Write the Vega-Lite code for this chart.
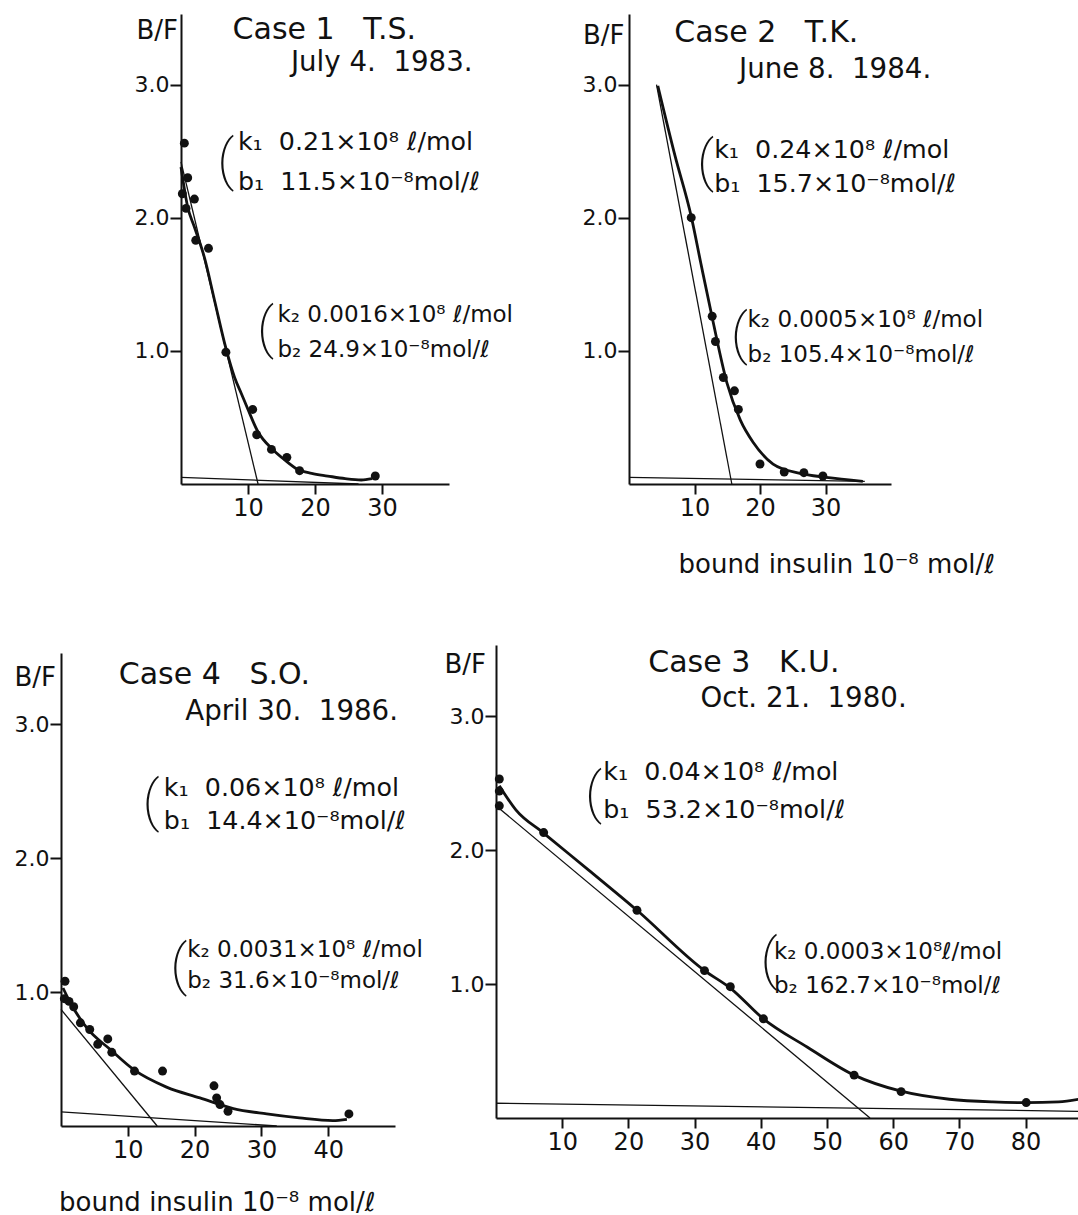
{
  "$schema": "https://vega.github.io/schema/vega-lite/v6.json",
  "background": "white",
  "padding": {"left": 13, "top": 14, "right": 0, "bottom": 0},
  "config": {
    "view": {"stroke": null},
    "font": "DejaVu Sans",
    "axis": {"grid": false, "domainColor": "#111", "domainWidth": 2, "tickColor": "#111", "tickWidth": 2, "labelColor": "#111", "labelFont": "DejaVu Sans", "titleFont": "DejaVu Sans", "titleFontWeight": "normal", "titleColor": "#111", "titleFontSize": 26, "labelOverlap": false, "labelFlush": false},
    "axisX": {"tickSize": 10, "labelFontSize": 24, "labelPadding": 2},
    "axisY": {"tickSize": 11, "labelFontSize": 22, "labelPadding": 1}
  },
  "datasets": {
    "pts": [
      {"case":1,"x":0.5,"y":2.56},{"case":1,"x":1.0,"y":2.30},{"case":1,"x":0.2,"y":2.18},{"case":1,"x":2.0,"y":2.14},{"case":1,"x":0.75,"y":2.07},{"case":1,"x":2.2,"y":1.83},{"case":1,"x":4.1,"y":1.77},{"case":1,"x":6.7,"y":0.99},{"case":1,"x":10.7,"y":0.56},{"case":1,"x":11.3,"y":0.37},{"case":1,"x":13.5,"y":0.26},{"case":1,"x":15.8,"y":0.2},{"case":1,"x":17.7,"y":0.1},{"case":1,"x":29.0,"y":0.06},
      {"case":2,"x":9.5,"y":2.0},{"case":2,"x":12.7,"y":1.26},{"case":2,"x":13.2,"y":1.07},{"case":2,"x":14.4,"y":0.8},{"case":2,"x":16.1,"y":0.7},{"case":2,"x":16.7,"y":0.56},{"case":2,"x":20.0,"y":0.15},{"case":2,"x":23.7,"y":0.09},{"case":2,"x":26.7,"y":0.085},{"case":2,"x":29.6,"y":0.06},
      {"case":4,"x":0.6,"y":1.08},{"case":4,"x":0.5,"y":0.95},{"case":4,"x":1.2,"y":0.93},{"case":4,"x":1.9,"y":0.89},{"case":4,"x":2.9,"y":0.77},{"case":4,"x":4.3,"y":0.72},{"case":4,"x":5.5,"y":0.61},{"case":4,"x":7.0,"y":0.65},{"case":4,"x":7.6,"y":0.55},{"case":4,"x":11.0,"y":0.41},{"case":4,"x":15.2,"y":0.41},{"case":4,"x":22.9,"y":0.3},{"case":4,"x":23.3,"y":0.21},{"case":4,"x":23.8,"y":0.16},{"case":4,"x":25.0,"y":0.11},{"case":4,"x":43.1,"y":0.09},
      {"case":3,"x":0.5,"y":2.53},{"case":3,"x":0.5,"y":2.44},{"case":3,"x":0.5,"y":2.33},{"case":3,"x":7.2,"y":2.13},{"case":3,"x":21.3,"y":1.55},{"case":3,"x":31.5,"y":1.1},{"case":3,"x":35.4,"y":0.98},{"case":3,"x":40.4,"y":0.74},{"case":3,"x":54.1,"y":0.32},{"case":3,"x":61.2,"y":0.197},{"case":3,"x":80.1,"y":0.115}
    ],
    "curve": [
      {"case":1,"x":0,"y":2.38},{"case":1,"x":1.0,"y":2.08},{"case":1,"x":2,"y":1.93},{"case":1,"x":3.5,"y":1.7},{"case":1,"x":5,"y":1.38},{"case":1,"x":6.7,"y":1.02},{"case":1,"x":8,"y":0.8},{"case":1,"x":9,"y":0.68},{"case":1,"x":10,"y":0.56},{"case":1,"x":11.4,"y":0.4},{"case":1,"x":13.9,"y":0.25},{"case":1,"x":15.5,"y":0.18},{"case":1,"x":17.4,"y":0.11},{"case":1,"x":19.5,"y":0.08},{"case":1,"x":21.9,"y":0.06},{"case":1,"x":24.5,"y":0.04},{"case":1,"x":26.9,"y":0.03},{"case":1,"x":28.5,"y":0.04},
      {"case":2,"x":4.4,"y":2.99},{"case":2,"x":7,"y":2.47},{"case":2,"x":9.5,"y":2.01},{"case":2,"x":11,"y":1.65},{"case":2,"x":12.7,"y":1.25},{"case":2,"x":14.95,"y":0.76},{"case":2,"x":17.0,"y":0.48},{"case":2,"x":19.0,"y":0.31},{"case":2,"x":22.0,"y":0.15},{"case":2,"x":26.1,"y":0.08},{"case":2,"x":30.1,"y":0.05},{"case":2,"x":35.7,"y":0.02},
      {"case":4,"x":0.3,"y":1.03},{"case":4,"x":1.4,"y":0.92},{"case":4,"x":3.9,"y":0.73},{"case":4,"x":7.4,"y":0.57},{"case":4,"x":10.9,"y":0.42},{"case":4,"x":15.8,"y":0.29},{"case":4,"x":20.8,"y":0.21},{"case":4,"x":25.8,"y":0.13},{"case":4,"x":30.8,"y":0.09},{"case":4,"x":35.7,"y":0.06},{"case":4,"x":40.7,"y":0.04},{"case":4,"x":42.8,"y":0.05},
      {"case":3,"x":0.5,"y":2.48},{"case":3,"x":3,"y":2.3},{"case":3,"x":7.1,"y":2.13},{"case":3,"x":14,"y":1.85},{"case":3,"x":21.3,"y":1.55},{"case":3,"x":31.5,"y":1.1},{"case":3,"x":35.4,"y":0.97},{"case":3,"x":40.4,"y":0.74},{"case":3,"x":47,"y":0.53},{"case":3,"x":54.1,"y":0.32},{"case":3,"x":61.2,"y":0.2},{"case":3,"x":68.5,"y":0.14},{"case":3,"x":75,"y":0.12},{"case":3,"x":80.1,"y":0.115},{"case":3,"x":85,"y":0.12},{"case":3,"x":88,"y":0.14}
    ],
    "lines": [
      {"case":1,"line":"high","x":0,"y":2.42},{"case":1,"line":"high","x":11.5,"y":0},{"case":1,"line":"low","x":0,"y":0.05},{"case":1,"line":"low","x":26.5,"y":0},
      {"case":2,"line":"high","x":4.2,"y":3.0},{"case":2,"line":"high","x":15.7,"y":0},{"case":2,"line":"low","x":0,"y":0.05},{"case":2,"line":"low","x":36,"y":0.02},
      {"case":4,"line":"high","x":0,"y":0.87},{"case":4,"line":"high","x":14.4,"y":0},{"case":4,"line":"low","x":0,"y":0.105},{"case":4,"line":"low","x":32.3,"y":0},
      {"case":3,"line":"high","x":0.5,"y":2.31},{"case":3,"line":"high","x":56.5,"y":0},{"case":3,"line":"low","x":0,"y":0.11},{"case":3,"line":"low","x":88,"y":0.05}
    ],
    "notes": [
      {"case":1,"kind":"title","x":7.7,"y":3.34,"t":"Case 1\u00a0\u00a0\u00a0T.S."},
      {"case":1,"kind":"date","x":16.4,"y":3.1,"t":"July 4.\u00a0 1983."},
      {"case":1,"kind":"k1","x":8.5,"y":2.51,"t":"k₁\u00a0 0.21×10⁸ ℓ/mol"},
      {"case":1,"kind":"k1","x":8.5,"y":2.21,"t":"b₁\u00a0 11.5×10⁻⁸mol/ℓ"},
      {"case":1,"kind":"k2","x":14.4,"y":1.22,"t":"k₂ 0.0016×10⁸ ℓ/mol"},
      {"case":1,"kind":"k2","x":14.4,"y":0.956,"t":"b₂ 24.9×10⁻⁸mol/ℓ"},
      {"case":1,"kind":"br","x":5.4,"y":2.42,"t":"("},
      {"case":1,"kind":"br","x":11.35,"y":1.157,"t":"("},
      {"case":2,"kind":"title","x":6.9,"y":3.32,"t":"Case 2\u00a0\u00a0\u00a0T.K."},
      {"case":2,"kind":"date","x":16.8,"y":3.05,"t":"June 8.\u00a0 1984."},
      {"case":2,"kind":"k1","x":13.0,"y":2.45,"t":"k₁\u00a0 0.24×10⁸ ℓ/mol"},
      {"case":2,"kind":"k1","x":13.0,"y":2.19,"t":"b₁\u00a0 15.7×10⁻⁸mol/ℓ"},
      {"case":2,"kind":"k2","x":18.1,"y":1.18,"t":"k₂ 0.0005×10⁸ ℓ/mol"},
      {"case":2,"kind":"k2","x":18.1,"y":0.92,"t":"b₂ 105.4×10⁻⁸mol/ℓ"},
      {"case":2,"kind":"br","x":10.4,"y":2.41,"t":"("},
      {"case":2,"kind":"br","x":15.55,"y":1.108,"t":"("},
      {"case":4,"kind":"title","x":8.65,"y":3.3,"t":"Case 4\u00a0\u00a0\u00a0S.O."},
      {"case":4,"kind":"date","x":18.6,"y":3.03,"t":"April 30.\u00a0 1986."},
      {"case":4,"kind":"k1","x":15.4,"y":2.46,"t":"k₁\u00a0 0.06×10⁸ ℓ/mol"},
      {"case":4,"kind":"k1","x":15.4,"y":2.22,"t":"b₁\u00a0 14.4×10⁻⁸mol/ℓ"},
      {"case":4,"kind":"k2","x":18.9,"y":1.26,"t":"k₂ 0.0031×10⁸ ℓ/mol"},
      {"case":4,"kind":"k2","x":18.9,"y":1.03,"t":"b₂ 31.6×10⁻⁸mol/ℓ"},
      {"case":4,"kind":"br","x":12.2,"y":2.41,"t":"("},
      {"case":4,"kind":"br","x":16.35,"y":1.19,"t":"("},
      {"case":3,"kind":"title","x":23.0,"y":3.33,"t":"Case 3\u00a0\u00a0\u00a0K.U."},
      {"case":3,"kind":"date","x":30.9,"y":3.07,"t":"Oct. 21.\u00a0 1980."},
      {"case":3,"kind":"k1","x":16.2,"y":2.52,"t":"k₁\u00a0 0.04×10⁸ ℓ/mol"},
      {"case":3,"kind":"k1","x":16.2,"y":2.24,"t":"b₁\u00a0 53.2×10⁻⁸mol/ℓ"},
      {"case":3,"kind":"k2","x":42.0,"y":1.19,"t":"k₂ 0.0003×10⁸ℓ/mol"},
      {"case":3,"kind":"k2","x":42.0,"y":0.93,"t":"b₂ 162.7×10⁻⁸mol/ℓ"},
      {"case":3,"kind":"br","x":13.45,"y":2.41,"t":"("},
      {"case":3,"kind":"br","x":39.95,"y":1.17,"t":"("}
    ]
  },
  "spacing": 631,
  "bounds": "flush",
  "vconcat": [
    {
      "spacing": 0,
      "bounds": "flush",
      "hconcat": [
        {"width": 119.5, "height": 10, "data": {"values": [{"a": 1}]}, "mark": {"type": "point", "opacity": 0}, "encoding": {}},
        {
          "spacing": 180,
          "bounds": "flush",
          "hconcat": [
            {
              "width": 268, "height": 470,
              "encoding": {
                "x": {"field": "x", "type": "quantitative", "scale": {"domain": [0, 40], "nice": false, "zero": false}, "axis": {"values": [10, 20, 30], "title": null}},
                "y": {"field": "y", "type": "quantitative", "scale": {"domain": [0, 3.53], "nice": false}, "axis": {"values": [1, 2, 3], "format": ".1f", "title": "B/F", "titleAngle": 0, "titleAlign": "right", "titleBaseline": "alphabetic", "titleX": -3.5, "titleY": 24}}
              },
              "layer": [
                {"data": {"name": "lines"}, "transform": [{"filter": "datum.case == 1"}], "mark": {"type": "line", "color": "#111", "strokeWidth": 1.3}, "encoding": {"detail": {"field": "line"}}},
                {"data": {"name": "curve"}, "transform": [{"filter": "datum.case == 1"}], "mark": {"type": "line", "color": "#111", "strokeWidth": 2.8, "interpolate": "monotone"}, "encoding": {}},
                {"data": {"name": "pts"}, "transform": [{"filter": "datum.case == 1"}], "mark": {"type": "point", "filled": true, "color": "#111", "opacity": 1, "size": 80}, "encoding": {}},
                {"data": {"name": "notes"}, "transform": [{"filter": "datum.case == 1 && datum.kind != 'br'"}], "mark": {"type": "text", "align": "left", "baseline": "alphabetic", "color": "#111", "font": "DejaVu Sans"}, "encoding": {"text": {"field": "t"}, "size": {"field": "kind", "type": "nominal", "scale": {"domain": ["title", "date", "k1", "k2"], "range": [30, 23, 24, 19]}, "legend": null}}},
                {"data": {"name": "notes"}, "transform": [{"filter": "datum.case == 1 && datum.kind == 'br'"}], "mark": {"type": "text", "align": "left", "baseline": "middle", "color": "#111", "font": "Roboto", "fontWeight": 200, "fontSize": 56}, "encoding": {"text": {"field": "t"}}}
              ]
            },
            {
              "width": 262, "height": 470,
              "encoding": {
                "x": {"field": "x", "type": "quantitative", "scale": {"domain": [0, 40], "nice": false, "zero": false}, "axis": {"values": [10, 20, 30], "title": "bound insulin 10⁻⁸ mol/ℓ", "titleAlign": "left", "titleBaseline": "alphabetic", "titleX": 49, "titleY": 88}},
                "y": {"field": "y", "type": "quantitative", "scale": {"domain": [0, 3.53], "nice": false}, "axis": {"values": [1, 2, 3], "format": ".1f", "title": "B/F", "titleAngle": 0, "titleAlign": "right", "titleBaseline": "alphabetic", "titleX": -5, "titleY": 29}}
              },
              "layer": [
                {"data": {"name": "lines"}, "transform": [{"filter": "datum.case == 2"}], "mark": {"type": "line", "color": "#111", "strokeWidth": 1.3}, "encoding": {"detail": {"field": "line"}}},
                {"data": {"name": "curve"}, "transform": [{"filter": "datum.case == 2"}], "mark": {"type": "line", "color": "#111", "strokeWidth": 2.8, "interpolate": "monotone"}, "encoding": {}},
                {"data": {"name": "pts"}, "transform": [{"filter": "datum.case == 2"}], "mark": {"type": "point", "filled": true, "color": "#111", "opacity": 1, "size": 80}, "encoding": {}},
                {"data": {"name": "notes"}, "transform": [{"filter": "datum.case == 2 && datum.kind != 'br'"}], "mark": {"type": "text", "align": "left", "baseline": "alphabetic", "color": "#111", "font": "DejaVu Sans"}, "encoding": {"text": {"field": "t"}, "size": {"field": "kind", "type": "nominal", "scale": {"domain": ["title", "date", "k1", "k2"], "range": [30, 23, 24, 19]}, "legend": null}}},
                {"data": {"name": "notes"}, "transform": [{"filter": "datum.case == 2 && datum.kind == 'br'"}], "mark": {"type": "text", "align": "left", "baseline": "middle", "color": "#111", "font": "Roboto", "fontWeight": 200, "fontSize": 56}, "encoding": {"text": {"field": "t"}}}
              ]
            }
          ]
        }
      ]
    },
    {
      "spacing": 435,
      "bounds": "flush",
      "hconcat": [
        {
          "spacing": 0,
          "bounds": "flush",
          "vconcat": [
            {"width": 10, "height": 8, "data": {"values": [{"a": 1}]}, "mark": {"type": "point", "opacity": 0}, "encoding": {}},
            {
              "width": 334, "height": 473,
              "encoding": {
                "x": {"field": "x", "type": "quantitative", "scale": {"domain": [0, 50], "nice": false, "zero": false}, "axis": {"values": [10, 20, 30, 40], "title": "bound insulin 10⁻⁸ mol/ℓ", "titleAlign": "left", "titleBaseline": "alphabetic", "titleX": -2.5, "titleY": 84}},
                "y": {"field": "y", "type": "quantitative", "scale": {"domain": [0, 3.53], "nice": false}, "axis": {"values": [1, 2, 3], "format": ".1f", "title": "B/F", "titleAngle": 0, "titleAlign": "right", "titleBaseline": "alphabetic", "titleX": -5.5, "titleY": 32}}
              },
              "layer": [
                {"data": {"name": "lines"}, "transform": [{"filter": "datum.case == 4"}], "mark": {"type": "line", "color": "#111", "strokeWidth": 1.3}, "encoding": {"detail": {"field": "line"}}},
                {"data": {"name": "curve"}, "transform": [{"filter": "datum.case == 4"}], "mark": {"type": "line", "color": "#111", "strokeWidth": 2.8, "interpolate": "monotone"}, "encoding": {}},
                {"data": {"name": "pts"}, "transform": [{"filter": "datum.case == 4"}], "mark": {"type": "point", "filled": true, "color": "#111", "opacity": 1, "size": 80}, "encoding": {}},
                {"data": {"name": "notes"}, "transform": [{"filter": "datum.case == 4 && datum.kind != 'br'"}], "mark": {"type": "text", "align": "left", "baseline": "alphabetic", "color": "#111", "font": "DejaVu Sans"}, "encoding": {"text": {"field": "t"}, "size": {"field": "kind", "type": "nominal", "scale": {"domain": ["title", "date", "k1", "k2"], "range": [30, 23, 24, 19]}, "legend": null}}},
                {"data": {"name": "notes"}, "transform": [{"filter": "datum.case == 4 && datum.kind == 'br'"}], "mark": {"type": "text", "align": "left", "baseline": "middle", "color": "#111", "font": "Roboto", "fontWeight": 200, "fontSize": 56}, "encoding": {"text": {"field": "t"}}}
              ]
            }
          ]
        },
        {
          "width": 582.5, "height": 473,
          "encoding": {
            "x": {"field": "x", "type": "quantitative", "scale": {"domain": [0, 88], "nice": false, "zero": false}, "axis": {"values": [10, 20, 30, 40, 50, 60, 70, 80], "title": null}},
            "y": {"field": "y", "type": "quantitative", "scale": {"domain": [0, 3.53], "nice": false}, "axis": {"values": [1, 2, 3], "format": ".1f", "title": "B/F", "titleAngle": 0, "titleAlign": "right", "titleBaseline": "alphabetic", "titleX": -10.5, "titleY": 27}}
          },
          "layer": [
            {"data": {"name": "lines"}, "transform": [{"filter": "datum.case == 3"}], "mark": {"type": "line", "color": "#111", "strokeWidth": 1.3}, "encoding": {"detail": {"field": "line"}}},
            {"data": {"name": "curve"}, "transform": [{"filter": "datum.case == 3"}], "mark": {"type": "line", "color": "#111", "strokeWidth": 2.8, "interpolate": "monotone"}, "encoding": {}},
            {"data": {"name": "pts"}, "transform": [{"filter": "datum.case == 3"}], "mark": {"type": "point", "filled": true, "color": "#111", "opacity": 1, "size": 80}, "encoding": {}},
            {"data": {"name": "notes"}, "transform": [{"filter": "datum.case == 3 && datum.kind != 'br'"}], "mark": {"type": "text", "align": "left", "baseline": "alphabetic", "color": "#111", "font": "DejaVu Sans"}, "encoding": {"text": {"field": "t"}, "size": {"field": "kind", "type": "nominal", "scale": {"domain": ["title", "date", "k1", "k2"], "range": [30, 23, 24, 19]}, "legend": null}}},
            {"data": {"name": "notes"}, "transform": [{"filter": "datum.case == 3 && datum.kind == 'br'"}], "mark": {"type": "text", "align": "left", "baseline": "middle", "color": "#111", "font": "Roboto", "fontWeight": 200, "fontSize": 56}, "encoding": {"text": {"field": "t"}}}
          ]
        }
      ]
    }
  ]
}
